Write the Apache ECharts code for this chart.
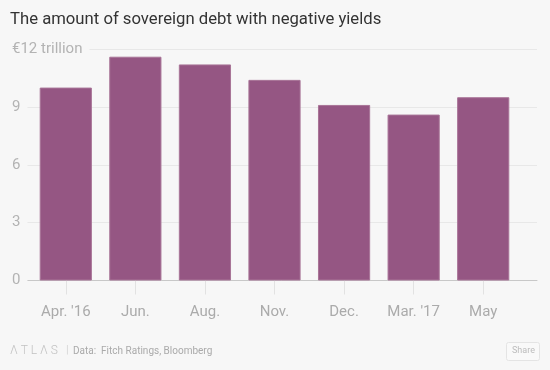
<!DOCTYPE html>
<html>
<head>
<meta charset="utf-8">
<script src="https://cdn.jsdelivr.net/npm/echarts@6/dist/echarts.min.js"></script>
<style>
html,body{margin:0;padding:0;background:#f7f7f7;}
#c{width:550px;height:370px;}
</style>
</head>
<body>
<div id="c"></div>
<script>
var categories = ["Apr. '16", "Jun.", "Aug.", "Nov.", "Dec.", "Mar. '17", "May"];
var debtTrillions = [10.0, 11.6, 11.2, 10.4, 9.1, 8.6, 9.5];
var yTicks = [0, 3, 6, 9, 12];
var yTopLabel = "€12 trillion";

var chart = echarts.init(document.getElementById('c'));
var FONT = 'Roboto, "Liberation Sans", sans-serif';
chart.setOption({
  backgroundColor: '#f7f7f7',
  animation: false,
  title: {
    text: 'The amount of sovereign debt with negative yields',
    left: 10, top: 11, padding: 0,
    textStyle: {fontFamily: FONT, fontSize: 16.7, fontWeight: 'normal', color: '#333'}
  },
  grid: [
    {left: 26, right: 13, top: 49, bottom: 89.5},
    {left: 31, right: 32, top: 49, bottom: 89.5}
  ],
  xAxis: [
    {gridIndex: 0, type: 'value', min: 0, max: 1, show: true,
     axisLine: {show: true, lineStyle: {color: '#c8c8c8', width: 1}},
     axisTick: {show: false}, axisLabel: {show: false}, splitLine: {show: false}},
    {gridIndex: 1, type: 'category', data: categories,
     axisLine: {show: false},
     axisTick: {show: true, alignWithLabel: true, length: 14, lineStyle: {color: '#e2e2e2'}},
     axisLabel: {margin: 24, color: '#ababab', fontFamily: FONT, fontSize: 15}}
  ],
  yAxis: [
    {gridIndex: 0, type: 'value', min: 0, max: 12, interval: 3,
     axisLine: {show: false}, axisTick: {show: false},
     splitLine: {lineStyle: {color: '#e8e8e8', width: 1}},
     axisLabel: {
       align: 'left', margin: 14, color: '#b3b3b3', fontFamily: FONT, fontSize: 15,
       formatter: function (v) {
         if (v === yTicks[yTicks.length - 1]) return yTopLabel;
         return yTicks.indexOf(v) >= 0 ? String(v) : '';
       },
       backgroundColor: '#f7f7f7', padding: [0, 7, 0, 0]
     }},
    {gridIndex: 1, type: 'value', min: 0, max: 12, interval: 3, show: false}
  ],
  series: [{
    type: 'bar', xAxisIndex: 1, yAxisIndex: 1,
    data: debtTrillions, barWidth: '75%',
    itemStyle: {color: '#955683', borderColor: '#a87497', borderWidth: 1}
  }],
  graphic: [
    {type: 'text', left: 10, top: 345,
     style: {text: 'Λ T L Λ S', fill: '#c2c2c2', font: '300 12px ' + FONT}},
    {type: 'text', left: 66, top: 345,
     style: {text: '|', fill: '#d6d6d6', font: '11px ' + FONT}},
    {type: 'text', left: 73, top: 346,
     style: {text: 'Data:  Fitch Ratings, Bloomberg', fill: '#aaaaaa', font: '10px ' + FONT}},
    {type: 'rect', shape: {x: 506.5, y: 342.5, width: 33, height: 18, r: 2},
     style: {fill: '#f9f9f9', stroke: '#e4e4e4', lineWidth: 1}},
    {type: 'text', left: 512, top: 346,
     style: {text: 'Share', fill: '#bcbcbc', font: '9px ' + FONT}}
  ]
});
</script>
</body>
</html>
